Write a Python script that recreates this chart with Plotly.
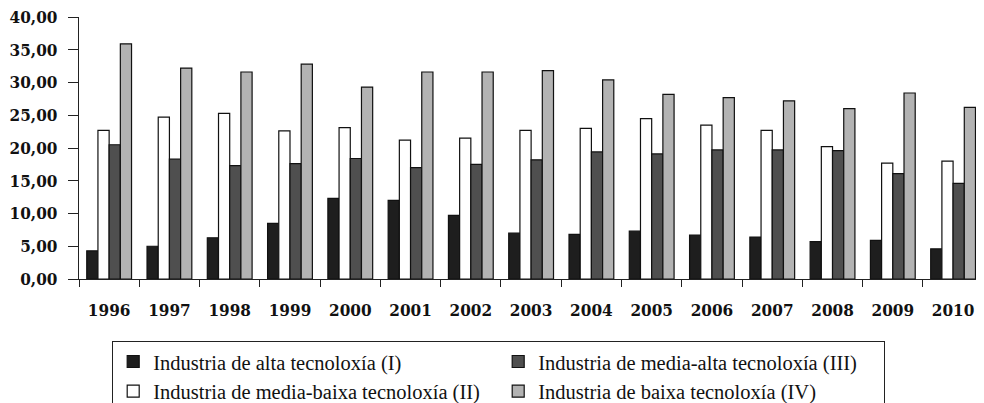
import plotly.graph_objects as go

years = ["1996", "1997", "1998", "1999", "2000", "2001", "2002", "2003",
         "2004", "2005", "2006", "2007", "2008", "2009", "2010"]
alta = [4.3, 5.0, 6.3, 8.5, 12.3, 12.0, 9.7, 7.0, 6.8, 7.3, 6.7, 6.4, 5.7, 5.9, 4.6]
media_baixa = [22.7, 24.7, 25.3, 22.6, 23.1, 21.2, 21.5, 22.7, 23.0, 24.5, 23.5, 22.7, 20.2, 17.7, 18.0]
media_alta = [20.5, 18.3, 17.3, 17.6, 18.4, 17.0, 17.5, 18.2, 19.4, 19.1, 19.7, 19.7, 19.6, 16.1, 14.6]
baixa = [35.9, 32.2, 31.6, 32.8, 29.3, 31.6, 31.6, 31.8, 30.4, 28.2, 27.7, 27.2, 26.0, 28.4, 26.2]

series = [
    ("Industria de alta tecnoloxía (I)", alta, "#1e1e1e", 1),
    ("Industria de media-baixa tecnoloxía (II)", media_baixa, "#ffffff", 3),
    ("Industria de media-alta tecnoloxía (III)", media_alta, "#4f4f4f", 2),
    ("Industria de baixa tecnoloxía (IV)", baixa, "#b3b3b3", 4),
]

fig = go.Figure()
for name, vals, color, rank in series:
    fig.add_trace(go.Bar(
        x=years, y=vals, name=name, legendrank=rank,
        marker=dict(color=color, line=dict(color="#111111", width=1.2)),
    ))

tick_font = dict(family="DejaVu Serif Condensed, DejaVu Serif", size=17, color="#111111", weight="bold")

# The page body keeps its default 8px margin, so the figure geometry is shifted by 8px
W, H = 968, 395
fig.update_layout(
    width=W, height=H,
    margin=dict(l=71, r=0, t=9, b=124, autoexpand=False),
    paper_bgcolor="white", plot_bgcolor="white",
    separators=",.",
    barmode="group", bargap=0.257, bargroupgap=0,
    showlegend=True,
    legend=dict(
        orientation="h", xref="container", yref="container",
        x=104 / W, xanchor="left", y=1 - 332.5 / H, yanchor="top",
        bordercolor="#222222", borderwidth=1.2, bgcolor="white",
        entrywidth=340, entrywidthmode="pixels",
        font=dict(family="Liberation Serif", size=20.5, color="#111111"),
        traceorder="normal",
    ),
    xaxis=dict(
        type="category", range=[-0.5, 14.38],
        showline=True, linecolor="#222222", linewidth=1.3,
        ticks="outside", tickson="boundaries", ticklen=7, tickcolor="#222222", tickwidth=1.3,
        tickfont=tick_font, ticklabelstandoff=15, automargin=False, ticklabeloverflow="allow",
        showgrid=False, zeroline=False, fixedrange=True,
    ),
    yaxis=dict(
        range=[0, 40], tickvals=[0, 5, 10, 15, 20, 25, 30, 35, 40], tickformat=".2f",
        showline=True, linecolor="#222222", linewidth=1.3,
        ticks="outside", ticklen=10, tickcolor="#222222", tickwidth=1.3,
        tickfont=tick_font, ticklabelstandoff=7, automargin=False, ticklabeloverflow="allow",
        showgrid=False, zeroline=False, fixedrange=True,
    ),
)

fig.write_html("out.html")
